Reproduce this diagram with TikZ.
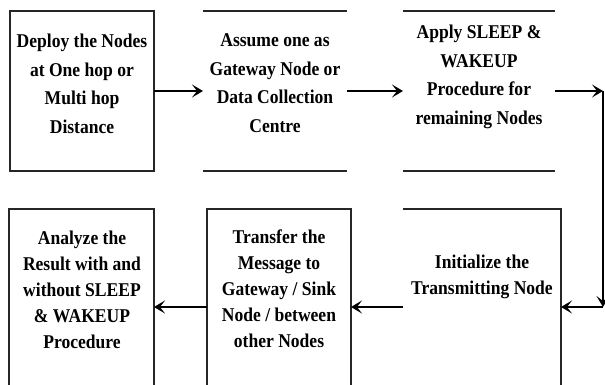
\documentclass[tikz,border=0pt]{standalone}
\usepackage{fontspec}
\setmainfont{Liberation Serif}
\newfontfamily\condserif[FakeStretch=0.9]{Liberation Serif}
\usetikzlibrary{arrows.meta}
\begin{document}
\begin{tikzpicture}[x=1pt,y=-1pt,
  boxshape/.style={rectangle,draw=none,inner sep=0pt,outer sep=0pt},
  side/.style={line width=1.7pt,black!85},
  arr/.style={line width=2.2pt,-{Stealth[length=11pt,width=13pt,inset=5pt]}},
  txt/.style={align=center,inner sep=0pt,font=\condserif\bfseries\fontsize{19.5}{28.5}\selectfont},
  txtb/.style={align=center,inner sep=0pt,font=\condserif\bfseries\fontsize{19.5}{26}\selectfont}]
\useasboundingbox (0,0) rectangle (605,385);
\clip (0,0) rectangle (605,385);
% box geometry
\node[boxshape,minimum width=144pt,minimum height=160pt] (b1) at (82,91) {};
\node[boxshape,minimum width=144pt,minimum height=160pt] (b2) at (275,91) {};
\node[boxshape,minimum width=152pt,minimum height=160pt] (b3) at (479,91) {};
\node[boxshape,minimum width=158pt,minimum height=196pt] (b4) at (482,307) {};
\node[boxshape,minimum width=144pt,minimum height=196pt] (b5) at (279,307) {};
\node[boxshape,minimum width=145pt,minimum height=196pt] (b6) at (81.5,307) {};
% visible sides
\draw[side] (b1.north west) rectangle (b1.south east);
\draw[side] (b2.north west) -- (b2.north east);
\draw[side] (b2.south west) -- (b2.south east);
\draw[side] (b3.north west) -- (b3.north east);
\draw[side] (b3.south west) -- (b3.south east);
\draw[side] (b4.north west) -- (b4.north east) -- (b4.south east);
\draw[side] (b5.south west) -- (b5.north west) -- (b5.north east) -- (b5.south east);
\draw[side] (b6.south west) -- (b6.north west) -- (b6.north east) -- (b6.south east);
% texts
\node[txt] (t1) at (82,84) {Deploy the Nodes\\at One hop or\\Multi hop\\Distance};
\node[txt] (t2) at (275,83) {Assume one as\\Gateway Node or\\Data Collection\\Centre};
\node[txt] (t3) at (479,77) {Apply SLEEP \&\\WAKEUP\\Procedure for\\remaining Nodes};
\node[txtb] (t4) at (482,277) {Initialize the\\Transmitting Node};
\node[txtb] (t5) at (279,289) {Transfer the\\Message to\\Gateway / Sink\\Node / between\\other Nodes};
\node[txtb] (t6) at (82,290) {Analyze the\\Result with and\\without SLEEP\\\& WAKEUP\\Procedure};
% connectors
\coordinate (c1) at (603,91);
\coordinate (c2) at (603,307);
\draw[arr] (b1.east) -- (b2.west);
\draw[arr] (b2.east) -- (b3.west);
\draw[arr] (b3.east) -- (c1);
\draw[arr] (c1) -- (c2);
\draw[arr] (c2) -- (b4.east);
\draw[arr] (b4.west) -- (b5.east);
\draw[arr] (b5.west) -- (b6.east);
\end{tikzpicture}
\end{document}
